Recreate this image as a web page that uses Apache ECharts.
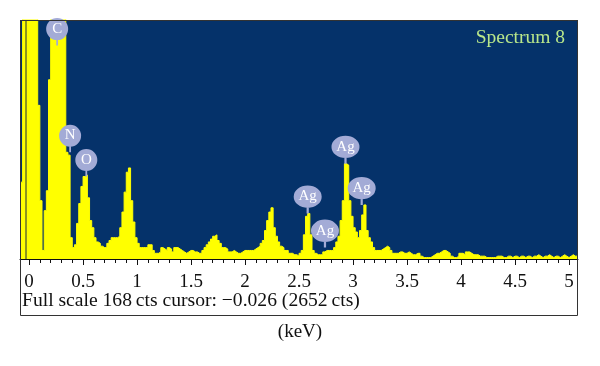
<!DOCTYPE html>
<html>
<head>
<meta charset="utf-8">
<script src="https://cdn.jsdelivr.net/npm/echarts@6/dist/echarts.min.js"></script>
<style>
  html, body { margin: 0; padding: 0; background: #fff; }
  #chart { width: 600px; height: 366px; }
</style>
</head>
<body>
<div id="chart"></div>
<script>
// 能谱数据：每道 0.02 keV，从 -0.08 keV 开始
const binStart = -0.08;
const binWidth = 0.02;
const counts = [
  54, 900, 2652, 3100, 2900, 1900, 900, 320, 108, 41,
  6, 34, 48, 126, 420, 760, 980, 1040, 890, 620,
  380, 75, 73, 15, 8, 10, 25, 39, 51, 58,
  59, 43, 27, 22, 15, 12, 11, 9, 8, 8,
  11, 13, 15, 15, 15, 16, 22, 33, 47, 61,
  64, 41, 26, 15, 11, 8, 8, 8, 8, 10,
  10, 6, 4, 4, 5, 8, 7, 6, 8, 7,
  5, 8, 8, 7, 6, 5, 4, 5, 6, 6,
  5, 5, 4, 4, 6, 8, 10, 12, 14, 16,
  17, 13, 11, 8, 8, 7, 5, 5, 6, 5,
  4, 4, 5, 6, 6, 6, 6, 6, 7, 8,
  9, 11, 13, 20, 27, 33, 36, 22, 16, 12,
  9, 8, 6, 6, 4, 4, 3, 3, 2, 4,
  6, 17, 30, 32, 17, 6, 4, 3, 3, 3,
  5, 6, 6, 6, 6, 8, 12, 16, 27, 41,
  67, 66, 41, 30, 22, 19, 15, 20, 31, 38,
  20, 15, 12, 8, 6, 6, 6, 7, 8, 9,
  8, 6, 4, 4, 4, 5, 5, 4, 4, 5,
  4, 3, 3, 4, 4, 2, 1, 1, 1, 1,
  2, 3, 4, 4, 5, 6, 6, 5, 4, 2,
  1, 1, 2, 4, 4, 3, 5, 5, 4, 3,
  3, 3, 2, 2, 2, 1, 1, 1, 1, 1,
  2, 2, 2, 1, 1, 2, 2, 1, 2, 2,
  1, 2, 2, 1, 2, 2, 1, 2, 2, 3,
  2, 1, 2, 2, 3, 2, 1, 2, 2, 1,
  2, 3, 2, 1, 2, 3, 2, 2
];

// 峰标注
const peakNames = ['C', 'N', 'O', 'Ag', 'Ag', 'Ag', 'Ag'];
const peakKeV = [0.26, 0.38, 0.53, 2.58, 2.74, 2.93, 3.08];
const peakTip = [150, 75, 58, 32, 8, 67, 38];

// 刻度
const majorTicks = [0, 0.5, 1, 1.5, 2, 2.5, 3, 3.5, 4, 4.5, 5];
const minorTicks = [
  0, 0.1, 0.2, 0.3, 0.4, 0.5, 0.6, 0.7, 0.8, 0.9,
  1, 1.1, 1.2, 1.3, 1.4, 1.5, 1.6, 1.7, 1.8, 1.9,
  2, 2.1, 2.2, 2.3, 2.4, 2.5, 2.6, 2.7, 2.8, 2.9,
  3, 3.1, 3.2, 3.3, 3.4, 3.5, 3.6, 3.7, 3.8, 3.9,
  4, 4.1, 4.2, 4.3, 4.4, 4.5, 4.6, 4.7, 4.8, 4.9, 5
];

const fullScale = 168;
const axisMin = -0.084;
const axisMax = 5.083;
const serif = 'Liberation Serif, Times New Roman, serif';

// 道 -> [keV, cts]，step 'end' 画直方
const spectrum = counts.map((c, i) => [+(binStart + i * binWidth).toFixed(2), c]);
spectrum.push([+(binStart + counts.length * binWidth).toFixed(2), counts[counts.length - 1]]);

// 圆圈 + 下方短线
const pinPath = 'path://M0,50 A50,50 0 1,1 100,50 A50,50 0 1,1 0,50 Z M46,96 L54,96 L54,125 L46,125 Z';
const markData = peakNames.map((name, i) => ({
  name,
  coord: [peakKeV[i], peakTip[i]],
  symbol: pinPath,
  symbolSize: name.length > 1 ? [28, 28] : [22, 27.5],
  symbolOffset: [0, '-50%'],
  symbolKeepAspect: false,
  label: {
    show: true,
    formatter: name,
    position: 'inside',
    offset: [0, -3],
    color: '#fff',
    fontFamily: serif,
    fontSize: 15,
  },
}));

const chart = echarts.init(document.getElementById('chart'), null, { renderer: 'canvas' });

chart.setOption({
  animation: false,
  backgroundColor: '#fff',
  grid: {
    left: 20,
    top: 20,
    width: 558,
    height: 239,
    show: true,
    backgroundColor: '#05326a',
    borderWidth: 0,
    outerBoundsMode: 'none',
  },
  xAxis: [
    {
      type: 'value',
      min: axisMin,
      max: axisMax,
      position: 'bottom',
      axisLine: { show: true, onZero: false, lineStyle: { color: '#111', width: 1 } },
      axisTick: { show: true, inside: false, length: 4, customValues: minorTicks, lineStyle: { color: '#111' } },
      axisLabel: { show: false },
      splitLine: { show: false },
    },
    {
      type: 'value',
      min: axisMin,
      max: axisMax,
      position: 'bottom',
      offset: 0,
      axisLine: { show: false, onZero: false },
      axisTick: { show: true, inside: false, length: 6, customValues: majorTicks, lineStyle: { color: '#111' } },
      axisLabel: {
        show: true,
        customValues: majorTicks,
        margin: 14,
        color: '#111',
        fontFamily: serif,
        fontSize: 19,
        formatter: (v) => String(v),
      },
      splitLine: { show: false },
    },
  ],
  yAxis: {
    type: 'value',
    min: 0,
    max: fullScale,
    show: false,
  },
  series: [
    {
      type: 'line',
      xAxisIndex: 0,
      step: 'end',
      symbol: 'none',
      clip: true,
      data: spectrum,
      lineStyle: { color: '#ffff00', width: 1 },
      areaStyle: { color: '#ffff00', opacity: 1 },
      markPoint: {
        itemStyle: { color: '#a3abd6' },
        data: markData,
      },
    },
  ],
  graphic: [
    // 外框
    {
      type: 'rect',
      shape: { x: 20.5, y: 20.5, width: 557, height: 295 },
      style: { fill: null, stroke: '#333', lineWidth: 1 },
      z: 100,
    },
    // 光标线
    {
      type: 'line',
      shape: { x1: 26, y1: 21, x2: 26, y2: 259 },
      style: { stroke: '#1c2a3a', lineWidth: 1 },
      z: 100,
    },
    {
      type: 'text',
      right: 35,
      top: 28,
      style: { text: 'Spectrum 8', fill: '#b9e78a', font: '19.5px ' + serif },
      z: 100,
    },
    {
      type: 'text',
      left: 22,
      top: 291,
      style: { text: 'Full scale 168\u2009cts cursor: \u22120.026 (2652\u2009cts)', fill: '#111', font: '19.6px ' + serif },
      z: 100,
    },
    {
      type: 'text',
      left: 'center',
      top: 323,
      style: { text: '(keV)', fill: '#111', font: '19px ' + serif },
      z: 100,
    },
  ],
});
</script>
</body>
</html>
